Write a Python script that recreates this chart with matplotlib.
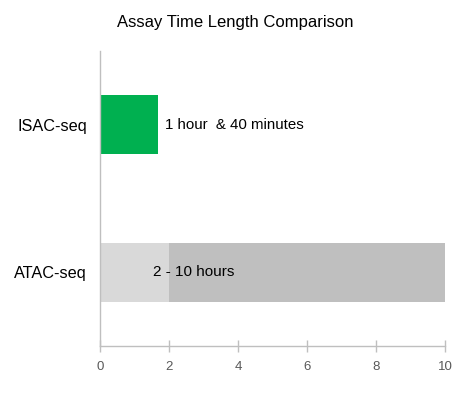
import matplotlib
matplotlib.use("Agg")
import matplotlib.pyplot as plt

categories = ["ATAC-seq", "ISAC-seq"]
isac_hours = 1 + 40 / 60
atac_min = 2
atac_max = 10
xticks = [0, 2, 4, 6, 8, 10]
isac_label = "1 hour  & 40 minutes"
atac_label = "2 - 10 hours"

plt.rcParams['font.family'] = ['Liberation Sans', 'DejaVu Sans']

fig = plt.figure(figsize=(4.7, 4.0), dpi=100)
ax = fig.add_axes([100/470, 54/400, 345/470, 295/400])

ax.barh(1, isac_hours, height=0.4, color="#00B050")
ax.barh(0, atac_min, height=0.4, color="#D9D9D9")
ax.barh(0, atac_max - atac_min, left=atac_min, height=0.4, color="#BFBFBF")

ax.text(isac_hours + 0.22, 1, isac_label, va="center", ha="left", fontsize=10.8, color="#000000")
ax.text(1.53, 0, atac_label, va="center", ha="left", fontsize=11, color="#000000")

ax.set_xlim(0, 10)
ax.set_ylim(-0.5, 1.5)
ax.set_xticks(xticks)
ax.set_xticklabels([str(t) for t in xticks])
ax.set_yticks([0, 1])
ax.set_yticklabels(categories, fontsize=11.7, color="#000000")
ax.tick_params(axis="y", length=0, pad=9.5)
ax.tick_params(axis="x", direction="inout", length=8, width=1, color="#BFBFBF",
               labelcolor="#595959", labelsize=9.5, pad=7)
for s in ["top", "right"]:
    ax.spines[s].set_visible(False)
for s in ["left", "bottom"]:
    ax.spines[s].set_color("#BFBFBF")
    ax.spines[s].set_linewidth(1)

fig.text(235/470, 1 - 22/400, "Assay Time Length Comparison", ha="center", va="center", fontsize=12, color="#000000")

fig.savefig("out.png", dpi=100)
